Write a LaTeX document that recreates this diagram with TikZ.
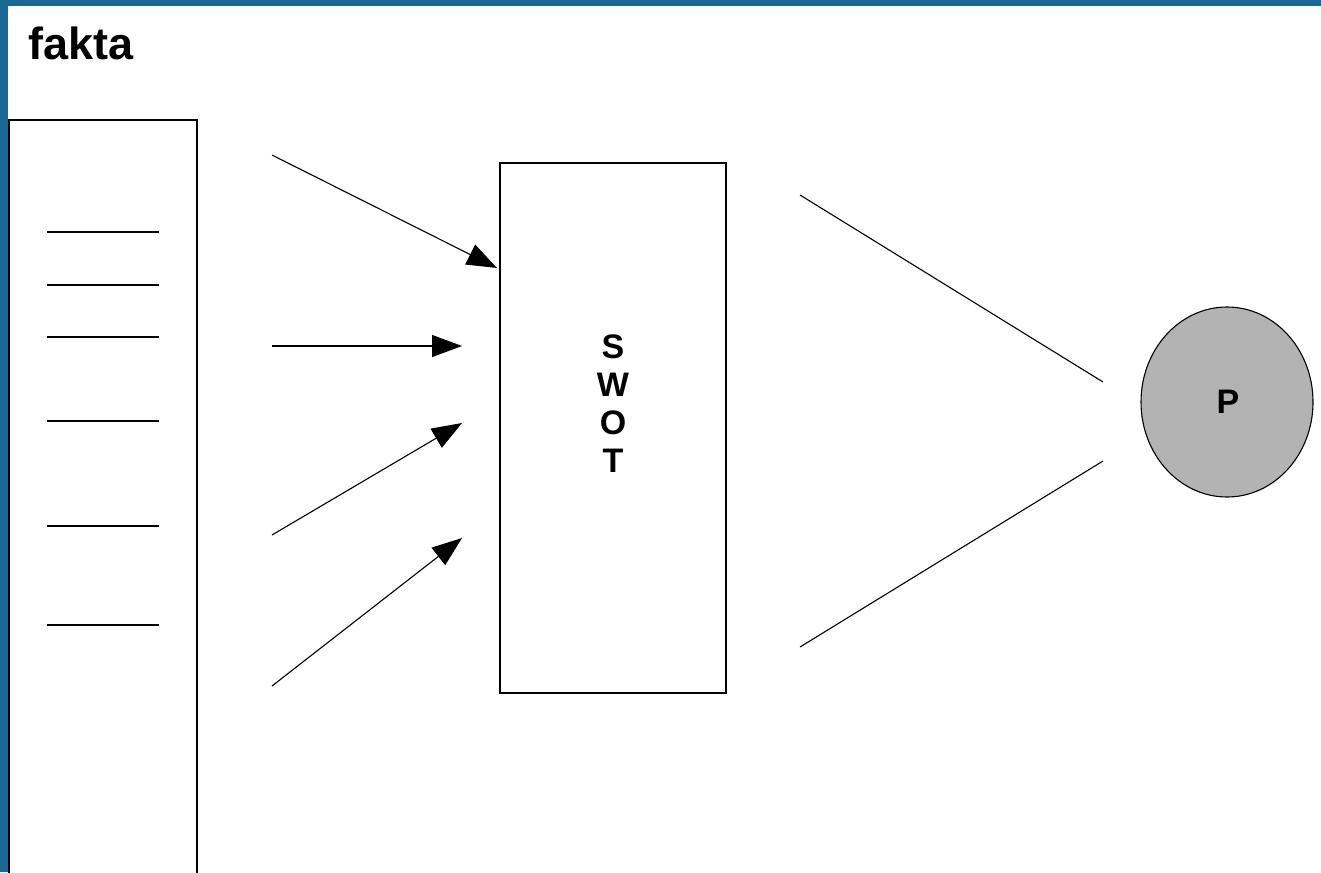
\documentclass[tikz,border=0pt]{standalone}
\usepackage{fontspec}
\setmainfont{Liberation Sans}
\usetikzlibrary{arrows.meta,shapes.geometric}
\definecolor{frameblue}{HTML}{1B6893}
\definecolor{pfill}{HTML}{B3B3B3}
\begin{document}
\begin{tikzpicture}[x=1pt,y=-1pt,
  thin line/.style={line width=1.1pt,black},
  arrow line/.style={thin line,-{Triangle[length=30pt,width=22pt]}},
  box/.style={draw,line width=1.3pt,fill=white,inner sep=0pt,outer sep=0pt},
  bigtext/.style={font=\bfseries\fontsize{34}{38}\selectfont,inner sep=0pt}
]
\useasboundingbox (0,0) rectangle (1321,872);
% window frame and white canvas
\fill[frameblue] (0,0) rectangle (1321,872);
\fill[white] (8,6) rectangle (1321,872);

% title
\node[anchor=base west,inner sep=0pt,font=\bfseries\fontsize{45}{52}\selectfont] (title) at (28,60) {fakta};

% list of facts
\draw[box] (9,120) rectangle (197,880);
\coordinate (listbox) at (103,500);
\foreach \y/\n in {232/a,285/b,337/c,421/d,526/e,625/f}{
  \coordinate (l\n) at (47,\y);
  \coordinate (r\n) at (159,\y);
  \draw[thin line] (l\n) -- (r\n);
}

% SWOT box
\node[box,minimum width=226pt,minimum height=530pt,anchor=north west] (swot) at (500,163) {};
\node[bigtext,align=center] (swottext) at (613,404) {S\\W\\O\\T};

% arrows into SWOT
\coordinate (s1) at (272,155);  \coordinate (e1) at (497,268);
\coordinate (s2) at (272,346);  \coordinate (e2) at (462,346);
\coordinate (s3) at (272,535);  \coordinate (e3) at (462,423);
\coordinate (s4) at (272,686);  \coordinate (e4) at (462,538);
\foreach \i in {1,...,4}{\draw[arrow line] (s\i) -- (e\i);}

% result node
\node[draw,line width=1.1pt,fill=pfill,ellipse,minimum width=172pt,minimum height=190pt,inner sep=0pt] (P) at (1227,402) {};
\node[bigtext] (ptext) at (1228,402) {P};

% converging lines
\coordinate (u1) at (800,195); \coordinate (u2) at (1103,382);
\coordinate (d1) at (800,647); \coordinate (d2) at (1103,461);
\draw[thin line] (u1) -- (u2);
\draw[thin line] (d1) -- (d2);
\end{tikzpicture}
\end{document}
